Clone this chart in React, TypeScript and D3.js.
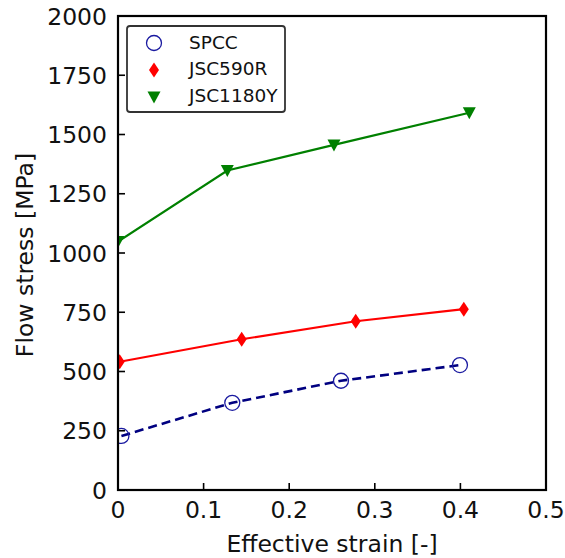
import React from "react";
import * as d3 from "d3";

const strainSPCC = [0.004, 0.1335, 0.2605, 0.3995];
const stressSPCC = [228, 368, 461, 527];
const strain590 = [0.002, 0.1445, 0.2777, 0.404];
const stress590 = [541, 636, 712, 763];
const strain1180 = [0.0, 0.1277, 0.2523, 0.4104];
const stress1180 = [1048, 1348, 1456, 1592];

const xTicks = [0, 0.1, 0.2, 0.3, 0.4, 0.5];
const xTickLabels = ["0", "0.1", "0.2", "0.3", "0.4", "0.5"];
const yTicks = [0, 250, 500, 750, 1000, 1250, 1500, 1750, 2000];

const seriesNames = ["SPCC", "JSC590R", "JSC1180Y"];

const W = 565;
const H = 558;
const left = 118;
const right = 546;
const top = 16;
const bottom = 490;
const font = "DejaVu Sans, sans-serif";

export default function App() {
  const x = d3.scaleLinear().domain([0, 0.5]).range([left, right]);
  const y = d3.scaleLinear().domain([0, 2000]).range([bottom, top]);
  const line = d3
    .line<[number, number]>()
    .x((d) => x(d[0]))
    .y((d) => y(d[1]));

  const spcc = strainSPCC.map((s, i) => [s, stressSPCC[i]] as [number, number]);
  const s590 = strain590.map((s, i) => [s, stress590[i]] as [number, number]);
  const s1180 = strain1180.map((s, i) => [s, stress1180[i]] as [number, number]);

  const diamond = (cx: number, cy: number) =>
    `M${cx},${cy - 7.5} L${cx + 5},${cy} L${cx},${cy + 7.5} L${cx - 5},${cy} Z`;
  const triDown = (cx: number, cy: number) =>
    `M${cx - 6.5},${cy - 5.5} L${cx + 6.5},${cy - 5.5} L${cx},${cy + 6.5} Z`;

  return (
    <svg width={W} height={H} style={{ position: "absolute", left: 0, top: 0 }}>
      <rect width={W} height={H} fill="white" />
      <defs>
        <clipPath id="plotArea">
          <rect x={left} y={top} width={right - left} height={bottom - top} />
        </clipPath>
      </defs>

      <g clipPath="url(#plotArea)">
        <path d={line(spcc) || ""} fill="none" stroke="#000080" strokeWidth={2.6} strokeDasharray="9,5" />
        <path d={line(s590) || ""} fill="none" stroke="red" strokeWidth={2.2} />
        <path d={line(s1180) || ""} fill="none" stroke="green" strokeWidth={2.2} />
        {spcc.map((d, i) => (
          <circle key={"c" + i} cx={x(d[0])} cy={y(d[1])} r={7.5} fill="none" stroke="#1a1aa0" strokeWidth={1.3} />
        ))}
        {s590.map((d, i) => (
          <path key={"d" + i} d={diamond(x(d[0]), y(d[1]))} fill="red" />
        ))}
        {s1180.map((d, i) => (
          <path key={"t" + i} d={triDown(x(d[0]), y(d[1]))} fill="green" />
        ))}
      </g>

      {/* ticks pointing inward */}
      {xTicks.map((t) => (
        <line key={"xt" + t} x1={x(t)} x2={x(t)} y1={bottom} y2={bottom - 7} stroke="black" strokeWidth={1.6} />
      ))}
      {yTicks.map((t) => (
        <line key={"yt" + t} x1={left} x2={left + 7} y1={y(t)} y2={y(t)} stroke="black" strokeWidth={1.6} />
      ))}

      <rect x={left} y={top} width={right - left} height={bottom - top} fill="none" stroke="black" strokeWidth={2.2} />

      {xTicks.map((t, i) => (
        <text key={"xl" + t} x={x(t)} y={bottom + 28} textAnchor="middle" fontFamily={font} fontSize={23.5} fill="#111">
          {xTickLabels[i]}
        </text>
      ))}
      {yTicks.map((t) => (
        <text key={"yl" + t} x={left - 11} y={y(t) + 8.5} textAnchor="end" fontFamily={font} fontSize={23.5} fill="#111">
          {t}
        </text>
      ))}

      <text x={332} y={552} textAnchor="middle" fontFamily={font} fontSize={23.5} fill="#111">
        Effective strain [-]
      </text>
      <text
        transform={`translate(33,255) rotate(-90)`}
        textAnchor="middle"
        fontFamily={font}
        fontSize={23.5}
        fill="#111"
      >
        Flow stress [MPa]
      </text>

      {/* legend */}
      <rect x={127} y={26} width={158} height={86} rx={3} fill="white" stroke="#333" strokeWidth={1.8} />
      <circle cx={154} cy={43} r={7.5} fill="none" stroke="#1a1aa0" strokeWidth={1.3} />
      <path d={diamond(154, 70)} fill="red" />
      <path d={triDown(154, 97)} fill="green" />
      {seriesNames.map((n, i) => (
        <text key={n} x={189} y={48.5 + i * 26.7} fontFamily={font} fontSize={18.5} fill="#111">
          {n}
        </text>
      ))}
    </svg>
  );
}
